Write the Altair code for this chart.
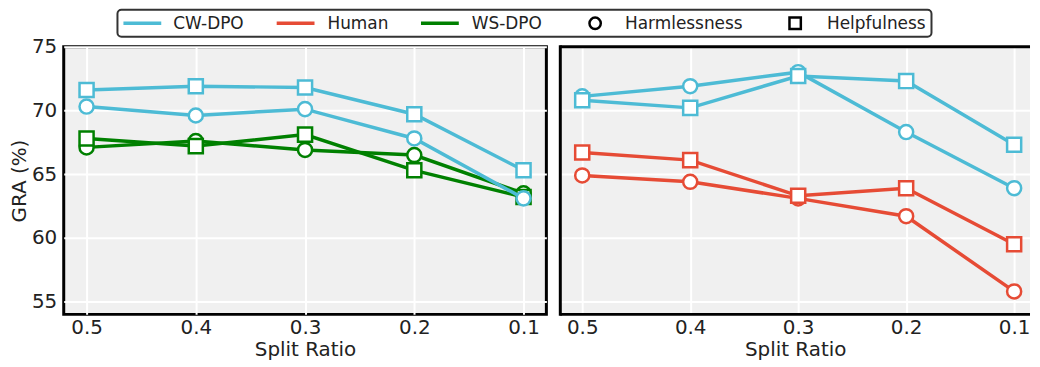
import altair as alt
import pandas as pd

# ---------------- data ----------------
ratios = [0.5, 0.4, 0.3, 0.2, 0.1]

# left panel
left_ws_harm = [67.1, 67.6, 66.9, 66.5, 63.5]
left_ws_help = [67.8, 67.2, 68.1, 65.3, 63.2]
left_cw_harm = [70.3, 69.6, 70.1, 67.8, 63.1]
left_cw_help = [71.6, 71.9, 71.8, 69.7, 65.3]

# right panel
right_cw_harm = [71.1, 71.9, 73.0, 68.3, 63.9]
right_cw_help = [70.8, 70.2, 72.7, 72.3, 67.3]
right_hu_harm = [64.9, 64.4, 63.1, 61.7, 55.8]
right_hu_help = [66.7, 66.1, 63.3, 63.9, 59.5]

method_colors = {"CW-DPO": "#4DBBD5", "Human": "#E64B35", "WS-DPO": "#008000"}
metric_shapes = {"Harmlessness": "circle", "Helpfulness": "square"}

y_ticks = [55, 60, 65, 70, 75]

# legend (order, symbol centres and text starts, in legend-row pixels)
legend_labels = ["CW-DPO", "Human", "WS-DPO", "Harmlessness", "Helpfulness"]
legend_kind = ["line", "line", "line", "circle", "square"]
legend_symbol_x = [79, 233, 378, 534, 735]
legend_text_x = [110, 265, 410, 564, 767]

FONT = "DejaVu Sans"
TXT = "#222222"
FS = 20
LEFT_W, RIGHT_W, PANEL_H = 485, 472, 269
LEG_W, LEG_H = 872, 27
BOX_X0 = 54


def series_df(method, metric, values):
    return pd.DataFrame({"ratio": ratios, "value": values,
                         "method": method, "metric": metric})


def panel(series, show_y, width, x_domain, border):
    x_enc = alt.X(
        "ratio:Q",
        scale=alt.Scale(domain=x_domain, reverse=True, nice=False, zero=False),
        axis=alt.Axis(values=ratios, format=".1f", title="Split Ratio",
                      labelPadding=3, titlePadding=2),
    )
    if show_y:
        y_axis = alt.Axis(values=y_ticks, title="GRA (%)", labelPadding=7, titlePadding=2)
    else:
        y_axis = alt.Axis(values=y_ticks, title=None, labels=False, labelPadding=0, titlePadding=0)
    y_enc = alt.Y("value:Q", scale=alt.Scale(domain=[54, 75], nice=False, zero=False), axis=y_axis)

    layers = []
    for method, metric, values in series:
        color = method_colors[method]
        base = alt.Chart(series_df(method, metric, values)).encode(x=x_enc, y=y_enc)
        layers.append(base.mark_line(color=color, strokeWidth=3.5))
        layers.append(base.mark_point(shape=metric_shapes[metric], filled=True, fill="white",
                                      stroke=color, strokeWidth=2.5, size=200, opacity=1))
    if border == "full":
        view = alt.ViewBackground(fill="#f0f0f0", stroke="black", strokeWidth=3)
    else:
        # open on the right: the reference crops this panel at the page edge
        view = alt.ViewBackground(fill="#f0f0f0", stroke=None)
        edge = alt.Chart(pd.DataFrame({"e": [0]}))
        layers.append(edge.mark_rule(color="black", strokeWidth=3).encode(
            x=alt.value(0), x2=alt.value(width), y=alt.value(0)))
        layers.append(edge.mark_rule(color="black", strokeWidth=3).encode(
            x=alt.value(0), x2=alt.value(width), y=alt.value(PANEL_H)))
        layers.append(edge.mark_rule(color="black", strokeWidth=3).encode(
            x=alt.value(0), y=alt.value(-1.5), y2=alt.value(PANEL_H + 1.5)))
    return alt.layer(*layers).properties(width=width, height=PANEL_H, view=view)


left = panel([
    ("WS-DPO", "Harmlessness", left_ws_harm),
    ("WS-DPO", "Helpfulness", left_ws_help),
    ("CW-DPO", "Harmlessness", left_cw_harm),
    ("CW-DPO", "Helpfulness", left_cw_help),
], True, LEFT_W, [0.0791, 0.5209], "full")

right = panel([
    ("CW-DPO", "Harmlessness", right_cw_harm),
    ("CW-DPO", "Helpfulness", right_cw_help),
    ("Human", "Harmlessness", right_hu_harm),
    ("Human", "Helpfulness", right_hu_help),
], False, RIGHT_W, [0.0853, 0.5203], "open")

# ---------------- legend ----------------
leg = pd.DataFrame({"label": legend_labels, "kind": legend_kind,
                    "sx": legend_symbol_x, "tx": legend_text_x})
leg["x0"] = leg["sx"] - 19
leg["x1"] = leg["sx"] + 19
leg["color"] = [method_colors.get(l, "black") for l in legend_labels]

lx = alt.Scale(domain=[0, LEG_W], nice=False, zero=False)
leg_box = alt.Chart(pd.DataFrame({"e": [0]})).mark_rect(
    fill="white", stroke="#333333", strokeWidth=2, cornerRadius=4
).encode(x=alt.value(BOX_X0), x2=alt.value(LEG_W), y=alt.value(0), y2=alt.value(LEG_H))
leg_lines = alt.Chart(leg).transform_filter(alt.datum.kind == "line").mark_rule(strokeWidth=3.5).encode(
    x=alt.X("x0:Q", scale=lx, axis=None), x2="x1:Q", y=alt.value(LEG_H / 2),
    color=alt.Color("color:N", scale=None),
)
leg_pts = alt.Chart(leg).transform_filter(alt.datum.kind != "line").mark_point(
    filled=True, fill="white", stroke="black", strokeWidth=2.5, size=130, opacity=1
).encode(
    x=alt.X("sx:Q", scale=lx, axis=None), y=alt.value(LEG_H / 2),
    shape=alt.Shape("kind:N", scale=None),
)
leg_txt = alt.Chart(leg).mark_text(align="left", baseline="middle", font=FONT,
                                   fontSize=17, color=TXT).encode(
    x=alt.X("tx:Q", scale=lx, axis=None), y=alt.value(LEG_H / 2 + 1), text="label:N",
)
legend = alt.layer(leg_box, leg_lines, leg_pts, leg_txt).properties(
    width=LEG_W, height=LEG_H,
    view=alt.ViewBackground(fill="white", stroke=None),
)

chart = alt.vconcat(
    legend,
    alt.hconcat(left, right, spacing=10),
    spacing=-3,
).properties(
    padding=0,
).configure(
    font=FONT,
).configure_axis(
    labelFont=FONT, titleFont=FONT, labelFontSize=FS, titleFontSize=FS,
    labelColor=TXT, titleColor=TXT, titleFontWeight="normal",
    gridColor="white", gridWidth=2, gridOpacity=1,
    domain=False, ticks=False,
)

chart.save("out.html", embed_options={"renderer": "svg", "actions": False})
